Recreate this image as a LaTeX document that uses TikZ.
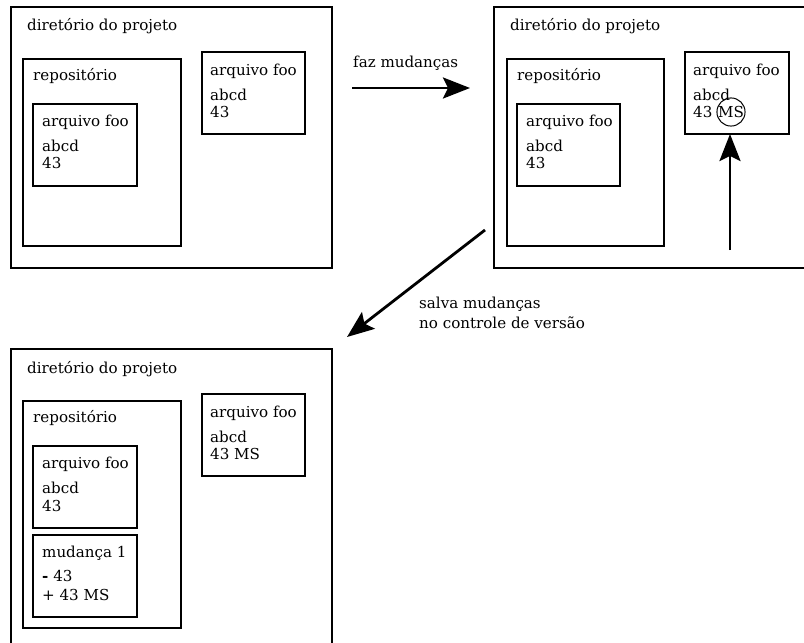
\documentclass[tikz,border=0pt]{standalone}
\usepackage{fontspec}
\setmainfont{DejaVu Serif}
\usetikzlibrary{arrows.meta}
\begin{document}
\begin{tikzpicture}[x=1pt,y=-1pt,
  box/.style={draw, line width=1.2pt, inner sep=0pt, outer sep=0pt, anchor=north west},
  frame/.style={draw, line width=1.2pt},
  txt/.style={anchor=base west, inner sep=0pt, font=\fontsize{15.1}{18}\selectfont},
  bigarrow/.style={line width=2.8pt, -{Stealth[length=27pt,width=21pt,inset=5pt]}},
  msring/.style={draw, circle, line width=1pt, inner sep=0pt, minimum size=28pt, font=\fontsize{15.1}{18}\selectfont}]
\useasboundingbox (0,0) rectangle (804,643);
% ---------- Box A ----------
\node[box, minimum width=321pt, minimum height=261pt] (dirA) at (11,7) {};
\node[txt] (dirAt) at (27,30) {diretório do projeto};
\node[box, minimum width=158pt, minimum height=187pt] (repoA) at (23,59) {};
\node[txt] (repoAt) at (33,80) {repositório};
\node[box, minimum width=104pt, minimum height=82pt] (innA) at (33,104) {};
\node[txt] (innA1) at (42,126) {arquivo foo};
\node[txt] (innA2) at (42,151) {abcd};
\node[txt] (innA3) at (42,168) {43};
\node[box, minimum width=103pt, minimum height=82pt] (wrkA) at (202,52) {};
\node[txt] (wrkA1) at (210,75) {arquivo foo};
\node[txt] (wrkA2) at (210,100) {abcd};
\node[txt] (wrkA3) at (210,117) {43};
% ---------- arrow faz mudancas ----------
\coordinate (f1) at (352,88);
\coordinate (f2) at (470,88);
\draw[bigarrow] (f1) -- (f2);
\node[txt] (flab) at (353,67) {faz mudanças};
% ---------- Box B ----------
\draw[frame] (810,7) -- (494,7) -- (494,268) -- (810,268);
\node[txt] (dirBt) at (510,30) {diretório do projeto};
\node[box, minimum width=157pt, minimum height=187pt] (repoB) at (507,59) {};
\node[txt] (repoBt) at (517,80) {repositório};
\node[box, minimum width=103pt, minimum height=82pt] (innB) at (517,104) {};
\node[txt] (innB1) at (526,126) {arquivo foo};
\node[txt] (innB2) at (526,151) {abcd};
\node[txt] (innB3) at (526,168) {43};
\node[box, minimum width=104pt, minimum height=82pt] (wrkB) at (685,52) {};
\node[txt] (wrkB1) at (693,75) {arquivo foo};
\node[txt] (wrkB2) at (693,100) {abcd};
\node[txt] (wrkB3) at (693,117) {43};
\node[msring] (ms) at (731,112) {MS};
\coordinate (vs) at (730,250);
\draw[bigarrow] (vs) -- (vs |- wrkB.south);
% ---------- diagonal arrow ----------
\coordinate (d1) at (485,230);
\coordinate (d2) at (347,337);
\draw[bigarrow] (d1) -- (d2);
\node[txt] (dlab1) at (419,308) {salva mudanças};
\node[txt] (dlab2) at (419,328) {no controle de versão};
% ---------- Box C ----------
\draw[frame] (11,650) -- (11,349) -- (332,349) -- (332,650);
\node[txt] (dirCt) at (27,373) {diretório do projeto};
\node[box, minimum width=158pt, minimum height=227pt] (repoC) at (23,401) {};
\node[txt] (repoCt) at (33,422) {repositório};
\node[box, minimum width=104pt, minimum height=82pt] (innC) at (33,446) {};
\node[txt] (innC1) at (42,468) {arquivo foo};
\node[txt] (innC2) at (42,493) {abcd};
\node[txt] (innC3) at (42,511) {43};
\node[box, minimum width=104pt, minimum height=82pt] (chgC) at (33,535) {};
\node[txt] (chgC1) at (42,557) {mudança 1};
\node[txt] (chgC2) at (42,581) {{\bfseries -} 43};
\node[txt] (chgC3) at (42,600) {+ 43 MS};
\node[box, minimum width=103pt, minimum height=82pt] (wrkC) at (202,394) {};
\node[txt] (wrkC1) at (210,417) {arquivo foo};
\node[txt] (wrkC2) at (210,442) {abcd};
\node[txt] (wrkC3) at (210,459) {43 MS};
\end{tikzpicture}
\end{document}
